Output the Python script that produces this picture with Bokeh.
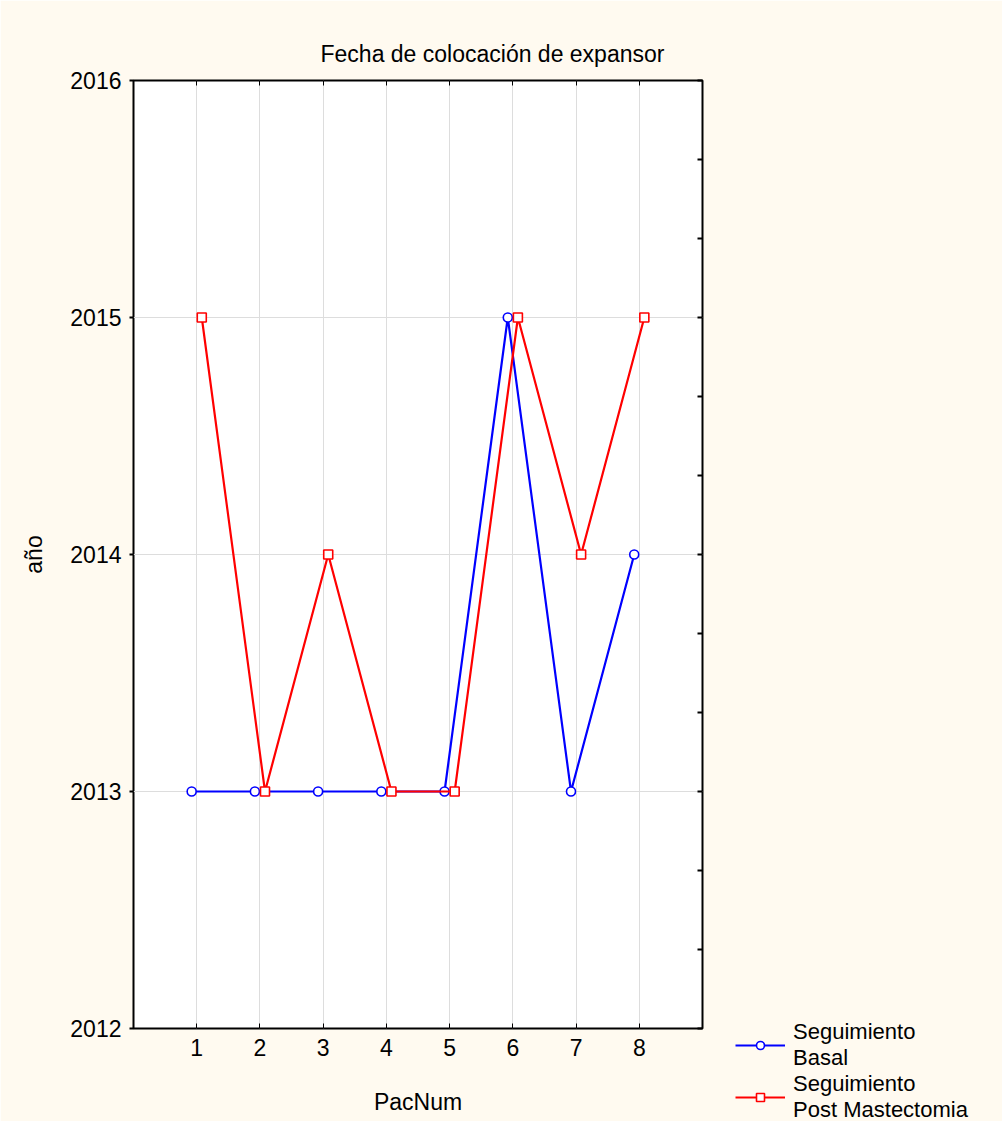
from bokeh.plotting import figure
from bokeh.models import LinearAxis, FixedTicker, Legend, LegendItem, Range1d
from bokeh.embed import file_html
from bokeh.resources import INLINE

pac = [1, 2, 3, 4, 5, 6, 7, 8]
basal = [2013, 2013, 2013, 2013, 2013, 2015, 2013, 2014]
post = [2015, 2013, 2014, 2013, 2013, 2015, 2014, 2015]
offset = 0.08

FONT = "Liberation Sans"
p = figure(width=986, height=1121, output_backend="svg", toolbar_location=None,
           x_range=Range1d(0, 9), y_range=Range1d(2012, 2016),
           frame_width=569, frame_height=948,
           min_border_left=133, min_border_top=80, min_border_right=284, min_border_bottom=93,
           title="Fecha de colocación de expansor")
p.background_fill_color = "white"
p.border_fill_color = "#fffaf0"
p.outline_line_color = "black"
p.outline_line_width = 2
p.title.align = "left"
p.title.offset = 187
p.title.text_font = FONT
p.title.text_font_style = "normal"
p.title.text_font_size = "23px"
p.title.text_color = "black"
p.title.standoff = 28

p.xgrid.ticker = FixedTicker(ticks=pac)
p.ygrid.ticker = FixedTicker(ticks=[2012, 2013, 2014, 2015, 2016])
p.grid.grid_line_color = "#dddddd"

for ax in [p.xaxis[0], p.yaxis[0]]:
    ax.axis_line_color = None
    ax.major_label_text_font = FONT
    ax.major_label_text_font_size = "23px"
    ax.major_label_text_color = "black"
    ax.axis_label_text_font = FONT
    ax.axis_label_text_font_style = "normal"
    ax.axis_label_text_font_size = "23px"
    ax.axis_label_text_color = "black"
    ax.minor_tick_line_color = None
p.xaxis.ticker = FixedTicker(ticks=pac)
p.xaxis.major_tick_in = 5
p.xaxis.major_tick_out = 0
p.xaxis.major_label_standoff = 10
p.xaxis.axis_label = "PacNum"
p.xaxis.axis_label_standoff = 30
p.yaxis.ticker = FixedTicker(ticks=[2012, 2013, 2014, 2015, 2016])
p.yaxis.major_tick_in = 0
p.yaxis.major_tick_out = 4
p.yaxis.major_tick_line_width = 2
p.yaxis.major_label_standoff = 8
p.yaxis.axis_label = "año"
p.yaxis.axis_label_standoff = 20

top = LinearAxis(ticker=FixedTicker(ticks=pac), major_label_text_font_size="0px",
                 axis_line_color=None, major_tick_in=5, major_tick_out=0, minor_tick_line_color=None)
p.add_layout(top, "above")
right = LinearAxis(ticker=FixedTicker(ticks=[2012 + i / 3 for i in range(13)]),
                   major_label_text_font_size="0px", axis_line_color=None,
                   major_tick_in=5, major_tick_out=0, major_tick_line_width=2,
                   minor_tick_line_color=None)
p.add_layout(right, "right")

xb = [x - offset for x in pac]
xp = [x + offset for x in pac]
lb = p.line(xb, basal, line_color="blue", line_width=2.2)
sb = p.scatter(xb, basal, marker="circle", size=9, line_color="blue", fill_color="white", line_width=1.6)
lp = p.line(xp, post, line_color="red", line_width=2.2)
sp = p.scatter(xp, post, marker="square", size=9, line_color="red", fill_color="white", line_width=1.6)

legend = Legend(items=[LegendItem(label="Seguimiento\nBasal", renderers=[lb, sb]),
                       LegendItem(label="Seguimiento\nPost Mastectomia", renderers=[lp, sp])],
                location=(-192, -95), background_fill_alpha=0, border_line_color=None,
                label_text_font=FONT, label_text_font_size="22px", label_text_color="black",
                label_text_line_height=1.5,
                glyph_width=50, label_standoff=8, spacing=0, padding=0, margin=0)
p.add_layout(legend, "right")

open("out.html", "w").write(file_html(p, INLINE))
